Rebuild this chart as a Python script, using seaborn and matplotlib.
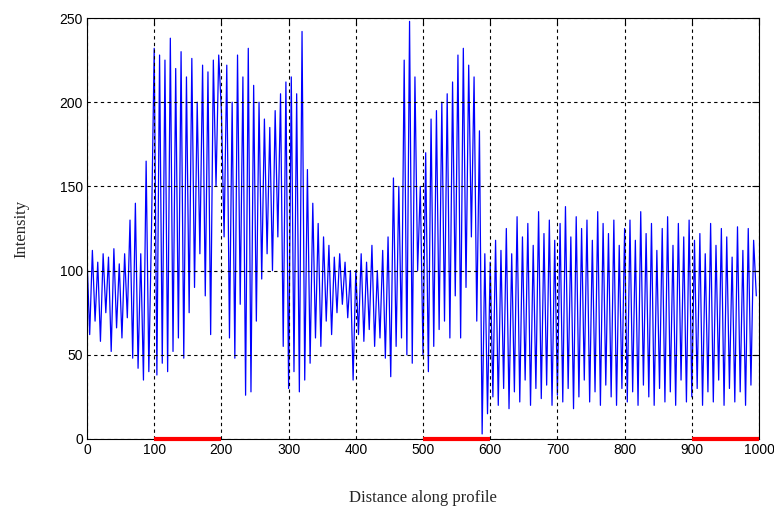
import numpy as np
import pandas as pd
import matplotlib
matplotlib.use("Agg")
import matplotlib.pyplot as plt
import seaborn as sns

# Intensity values along the profile (one value every 4 units of distance)
seg_000 = [108, 62, 112, 70, 105, 58, 110, 75, 108, 52, 113, 66, 104, 60, 110, 72,
           130, 48, 140, 42, 110, 35, 165, 40, 125]
seg_100 = [232, 38, 228, 45, 225, 40, 238, 52, 220, 60, 230, 48, 215, 75, 226, 90,
           200, 110, 222, 85, 218, 62, 225, 150, 228]
seg_200 = [195, 120, 222, 60, 200, 48, 228, 80, 215, 26, 232, 28, 210, 70, 200, 95,
           190, 110, 185, 100, 195, 120, 205, 55, 212]
seg_300 = [30, 215, 40, 205, 28, 242, 35, 160, 45, 140, 60, 128, 55, 120, 70, 115,
           62, 108, 75, 110, 80, 105, 72, 100, 35]
seg_400 = [100, 62, 110, 58, 105, 65, 115, 55, 100, 60, 112, 48, 120, 37, 155, 55,
           150, 60, 225, 50, 248, 45, 215, 100, 150]
seg_500 = [50, 170, 40, 190, 55, 195, 65, 200, 70, 205, 60, 212, 85, 228, 60, 232,
           90, 222, 120, 215, 70, 183, 3, 110, 15]
seg_600 = [105, 25, 118, 20, 112, 30, 125, 18, 110, 28, 132, 22, 120, 35, 128, 20,
           115, 30, 135, 24, 122, 32, 130, 20, 118]
seg_700 = [26, 128, 22, 138, 30, 120, 18, 132, 25, 125, 35, 130, 22, 118, 28, 135,
           20, 128, 32, 122, 25, 130, 20, 115, 30]
seg_800 = [125, 22, 130, 28, 118, 20, 135, 32, 122, 25, 128, 20, 112, 30, 125, 22,
           132, 28, 115, 20, 128, 35, 120, 22, 130]
seg_900 = [25, 118, 30, 122, 20, 110, 28, 128, 22, 115, 35, 125, 20, 120, 30, 108,
           22, 126, 28, 112, 20, 125, 32, 118, 85]

intensity = (seg_000 + seg_100 + seg_200 + seg_300 + seg_400 +
             seg_500 + seg_600 + seg_700 + seg_800 + seg_900)
sample_step = 4
distance = [i * sample_step for i in range(len(intensity))]

# Highlighted intervals on the baseline
red_intervals = [(100, 200), (500, 600), (900, 1000)]

x_ticks = [0, 100, 200, 300, 400, 500, 600, 700, 800, 900, 1000]
y_ticks = [0, 50, 100, 150, 200, 250]

df = pd.DataFrame({"distance": distance, "intensity": intensity})

sns.set_style("white")
plt.rcParams["font.family"] = ["Liberation Sans", "DejaVu Sans"]

fig = plt.figure(figsize=(7.74, 5.19), dpi=100)
ax = fig.add_axes([87 / 774, 1 - 439 / 519, (759 - 87) / 774, (439 - 18) / 519])

sns.lineplot(data=df, x="distance", y="intensity", color="#0000ff", lw=0.9,
             sort=False, estimator=None, ax=ax, zorder=2)

for a, b in red_intervals:
    ax.plot([a, b], [0, 0], color="#ff0000", lw=3, solid_capstyle="butt",
            zorder=4, clip_on=False)

ax.set_xlim(0, 1000)
ax.set_ylim(0, 250)
ax.set_xticks(x_ticks)
ax.set_yticks(y_ticks)
ax.tick_params(axis="both", direction="in", length=5, width=0.8, labelsize=10,
               top=True, right=True, colors="black", pad=3)
ax.grid(True, color="black", linestyle=(0, (3, 3)), linewidth=0.8, zorder=3)
ax.set_axisbelow(False)
for s in ax.spines.values():
    s.set_color("black")
    s.set_linewidth(0.8)

ax.set_xlabel("Distance along profile", family=["Liberation Serif"], fontsize=12,
              labelpad=24)
ax.set_ylabel("Intensity", family=["Liberation Serif"], fontsize=12, labelpad=22)

fig.savefig("out.png", dpi=100, facecolor="white")
